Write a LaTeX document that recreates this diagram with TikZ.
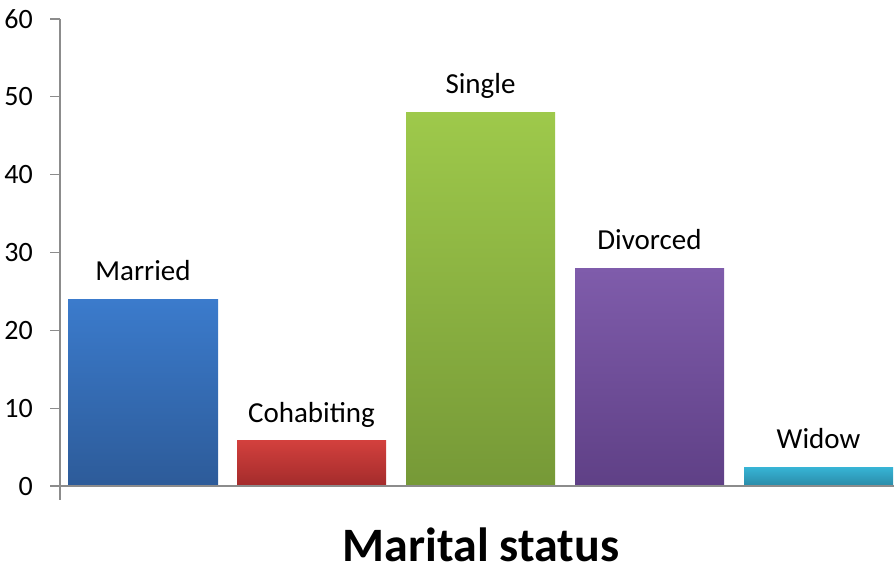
\documentclass[tikz,border=0pt]{standalone}
\usepackage{fontspec}
\setmainfont{Carlito}
\usepackage{tikz}

\definecolor{axisgrey}{HTML}{8C8C8C}
\definecolor{bluetop}{HTML}{3B7BCC}
\definecolor{bluebot}{HTML}{2D5B99}
\definecolor{redtop}{HTML}{D2403D}
\definecolor{redbot}{HTML}{A32B2B}
\definecolor{greentop}{HTML}{9EC94B}
\definecolor{greenbot}{HTML}{769937}
\definecolor{purpletop}{HTML}{7F5CAB}
\definecolor{purplebot}{HTML}{5F4086}
\definecolor{cyantop}{HTML}{37B4D5}
\definecolor{cyanbot}{HTML}{2A8AA7}

\tikzset{
  axisline/.style={axisgrey, line width=1.2pt},
  ticklabel/.style={anchor=east, inner sep=0pt, font=\fontsize{28}{32}\selectfont},
  barlabel/.style={anchor=base, inner sep=0pt, font=\fontsize{29}{34}\selectfont},
  shade/.style={draw=none, top color=#1top, bottom color=#1bot},
}

\begin{document}
\begin{tikzpicture}[x=1pt, y=-1pt]

    \useasboundingbox (0,0) rectangle (894,566);

    \coordinate (O) at (60,486);
    \coordinate (T) at (60,19);
    \coordinate (B) at (60,500);
    \coordinate (R) at (894,486);
    \coordinate (L) at (50,486);

    % bars
    \fill[shade=blue]   (68,486)  rectangle (218,299.2);
    \fill[shade=red]    (237,486) rectangle (386,440.9);
    \fill[shade=green]  (406,486) rectangle (555,112.4);
    \fill[shade=purple] (575,486) rectangle (724,268.1);
    \fill[shade=cyan]   (744,486) rectangle (893,467.3);

    % axes
    \draw[axisline] (T) -- (B);
    \draw[axisline] (L) -- (R);

    \draw[axisline] (50,408.2) -- (60,408.2);
    \draw[axisline] (50,330.3) -- (60,330.3);
    \draw[axisline] (50,252.5) -- (60,252.5);
    \draw[axisline] (50,174.7) -- (60,174.7);
    \draw[axisline] (50,96.8) -- (60,96.8);
    \draw[axisline] (50,19) -- (60,19);

    \node[ticklabel] (t0) at (33,486) {0};
    \node[ticklabel] (t10) at (33,408.2) {10};
    \node[ticklabel] (t20) at (33,330.3) {20};
    \node[ticklabel] (t30) at (33,252.5) {30};
    \node[ticklabel] (t40) at (33,174.7) {40};
    \node[ticklabel] (t50) at (33,96.8) {50};
    \node[ticklabel] (t60) at (33,19) {60};

    % labels over the bars
    \node[barlabel] (married) at (143,280.5) {Married};
    \node[barlabel] (cohab) at (311.5,422) {Cohabiting};
    \node[barlabel] (single) at (480.5,93.5) {Single};
    \node[barlabel] (divorced) at (649.5,249) {Divorced};
    \node[barlabel] (widow) at (818.5,448.5) {Widow};

    \node[anchor=base, inner sep=0pt, font=\fontsize{48}{56}\selectfont\bfseries] (title) at (481,561.5) {Marital status};

\end{tikzpicture}
\end{document}
